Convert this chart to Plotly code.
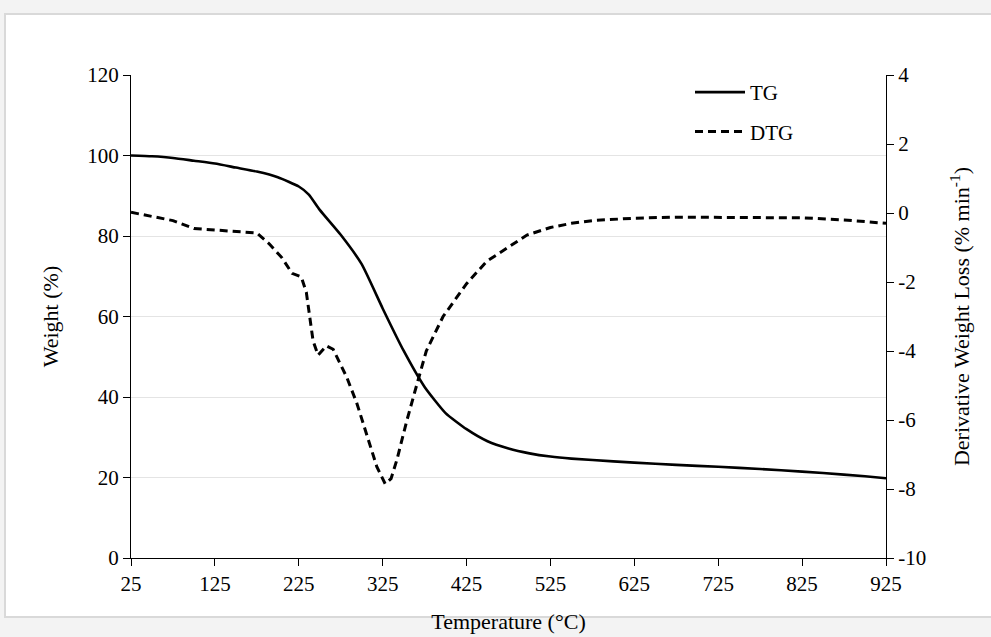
import plotly.graph_objects as go

# Thermogravimetric curve (weight %) vs temperature
tg_temp = [25, 50, 75, 100, 125, 150, 175, 200, 225, 237, 250, 275, 300, 325, 350,
           375, 400, 425, 450, 475, 500, 525, 550, 600, 650, 700, 750, 800, 850, 900, 925]
tg_weight = [100, 99.8, 99.4, 98.7, 98.0, 97.0, 96.0, 94.6, 92.3, 90.3, 86.5, 80.3, 73.0,
             62.0, 51.5, 42.5, 36.0, 32.0, 29.0, 27.2, 26.0, 25.2, 24.7, 24.0, 23.4,
             22.9, 22.4, 21.8, 21.1, 20.3, 19.8]

# Derivative thermogravimetric curve (% min^-1) vs temperature
dtg_temp = [25, 50, 75, 100, 125, 150, 175, 190, 205, 217, 228, 234, 238, 242, 248, 258,
            266, 282, 294, 306, 318, 328, 335, 342, 354, 366, 377, 397, 425, 449, 473,
            497, 525, 550, 575, 625, 675, 725, 775, 825, 875, 925]
dtg_rate = [0.02, -0.1, -0.22, -0.45, -0.5, -0.53, -0.58, -0.9, -1.3, -1.75, -1.85, -2.3,
            -3.0, -3.7, -4.12, -3.85, -3.95, -4.75, -5.5, -6.4, -7.35, -7.85, -7.7, -7.15,
            -6.0, -4.95, -4.0, -3.0, -2.05, -1.4, -1.02, -0.64, -0.42, -0.3, -0.22, -0.15,
            -0.12, -0.12, -0.12, -0.14, -0.2, -0.3]

x_ticks = [25, 125, 225, 325, 425, 525, 625, 725, 825, 925]
w_ticks = [0, 20, 40, 60, 80, 100, 120]
d_ticks = [-10, -8, -6, -4, -2, 0, 2, 4]

W, H = 991, 637
ML, MR, MT, MB = 131, 105, 75, 79
PW, PH = W - ML - MR, H - MT - MB

FONT = "Liberation Serif, Times New Roman, serif"

fig = go.Figure()
fig.add_trace(go.Scatter(
    x=tg_temp, y=tg_weight, mode="lines", name="TG", legendgroup="tg",
    line=dict(color="black", width=2.6, shape="spline", smoothing=0.5),
))
fig.add_trace(go.Scatter(
    x=dtg_temp, y=dtg_rate, mode="lines", name="DTG", legendgroup="dtg", yaxis="y2",
    line=dict(color="black", width=3, dash="8px,5px"),
))


def px_x(px):
    return (px - ML) / PW


def px_y(py):
    return (H - MB - py) / PH


fig.update_layout(
    width=W, height=H,
    margin=dict(l=ML, r=MR, t=MT, b=MB),
    paper_bgcolor="#f3f3f3",
    plot_bgcolor="rgba(0,0,0,0)",
    font=dict(family=FONT, size=21, color="black"),
    showlegend=True,
    legend=dict(
        x=px_x(690), y=px_y(72), xanchor="left", yanchor="top",
        bgcolor="rgba(0,0,0,0)", font=dict(size=21), tracegroupgap=9,
        itemwidth=50,
    ),
    xaxis=dict(
        range=[25, 925], tickvals=x_ticks, ticktext=[str(v) for v in x_ticks],
        showgrid=False, zeroline=False, showline=True, linecolor="black", linewidth=1,
        ticks="outside", ticklen=7, tickcolor="black", automargin=False,
        title=dict(text="Temperature (°C)", font=dict(size=22), standoff=18),
    ),
    yaxis=dict(
        range=[0, 120], tickvals=w_ticks, ticktext=[str(v) for v in w_ticks],
        showgrid=True, gridcolor="#e4e4e4", gridwidth=1,
        zeroline=False, showline=True, linecolor="black", linewidth=1,
        ticks="outside", ticklen=7, tickcolor="black", automargin=False,
        title=dict(text="Weight (%)", font=dict(size=22), standoff=22),
    ),
    yaxis2=dict(
        range=[-10, 4], tickvals=d_ticks, ticktext=[str(v) for v in d_ticks],
        overlaying="y", side="right",
        showgrid=False, zeroline=False, showline=True, linecolor="black", linewidth=1,
        ticks="outside", ticklen=7, tickcolor="black", automargin=False,
        title=dict(text="Derivative Weight Loss (% min<sup>-1</sup>)", font=dict(size=22), standoff=28),
    ),
    shapes=[dict(
        type="rect", xref="paper", yref="paper", layer="below",
        x0=px_x(5), x1=px_x(995), y0=px_y(617), y1=px_y(14),
        fillcolor="white", line=dict(color="#d9d9d9", width=2),
    )],
)

fig.write_html("out.html")
